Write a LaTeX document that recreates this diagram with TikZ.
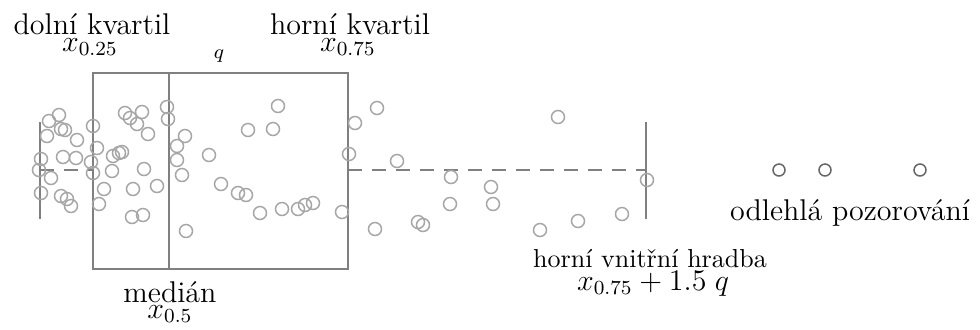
\documentclass[tikz,border=0pt]{standalone}
\usepackage{amsmath}
\usepackage{tikz}
\usetikzlibrary{calc}

\begin{document}
\begin{tikzpicture}[x=0.4pt,y=-0.4pt,
    box/.style = {draw=black!50, line width=0.8pt},
    obs/.style = {draw=black!35, line width=0.6pt},
    outl/.style = {draw=black!60, line width=0.6pt},
    lbl/.style = {inner sep=0pt, anchor=base, font=\large}]
  \useasboundingbox (0,0) rectangle (980,329);
  % box and median
  \draw[box] (93,73) rectangle (348,269);
  \draw[box] (169,73) -- (169,269);
  % whiskers (inner fences)
  \coordinate (lo) at (40,170);
  \coordinate (hi) at (646,170);
  \coordinate (q1) at (93,170);
  \coordinate (q3) at (348,170);
  \draw[box] (40,122) -- (40,219);
  \draw[box] (646,122) -- (646,219);
  \draw[box, dash pattern=on 5.6pt off 4pt] (lo) -- (q1);
  \draw[box, dash pattern=on 5.6pt off 4pt] (q3) -- (hi);
  % draw observations
  \foreach \p in {(49,121),(59,115),(61,129),(65,130),(47,136),(77,140),
      (93,126),(125,113),(130,118),(142,112),(137,124),(148,134),
      (167,107),(168,119),(185,136),(177,146),(209,155),(177,160),
      (182,175),(248,130),(278,106),(273,129),(41,159),(63,157),
      (76,158),(39,170),(51,178),(97,148),(91,162),(93,173),(113,156),
      (122,152),(119,153),(112,171),(144,169),(104,189),(133,189),
      (157,186),(41,193),(61,196),(67,199),(71,206),(99,204),(132,217),
      (143,215),(186,231),(221,184),(238,193),(246,195),(260,213),
      (282,209),(298,209),(305,205),(313,203),(342,212),
      (377,108),(355,123),(349,154),(397,161),(375,229),(418,222),
      (423,225),(451,177),(450,204),(491,187),(493,204),(558,117),
      (540,230),(578,221),(622,214),(647,180)}
    \draw[obs] \p circle (2.6pt);
  % draw outliers
  \draw[outl] (779,170) circle (2.4pt);
  \draw[outl] (825,170) circle (2.4pt);
  \draw[outl] (920,170) circle (2.4pt);
  % labels
  \node[lbl] (dk) at (92,34) {dolní kvartil};
  \node[lbl] (dkx) at (90,51) {$x_{0.25}$};
  \node[lbl] (hk) at (350,34) {horní kvartil};
  \node[lbl] (hkx) at (348,51) {$x_{0.75}$};
  \node[lbl, font=\footnotesize] (q) at (219,58) {$q$};
  \node[lbl] (med) at (170,302) {medián};
  \node[lbl] (medx) at (170,318) {$x_{0.5}$};
  \node[lbl, font=\fontsize{10.4}{12}\selectfont] (hr) at (650,267) {horní vnitřní hradba};
  \node[lbl] (hrx) at (653,290) {$x_{0.75} + 1.5\;q$};
  \node[lbl] (odl) at (850,220) {odlehlá pozorování};
\end{tikzpicture}
\end{document}
